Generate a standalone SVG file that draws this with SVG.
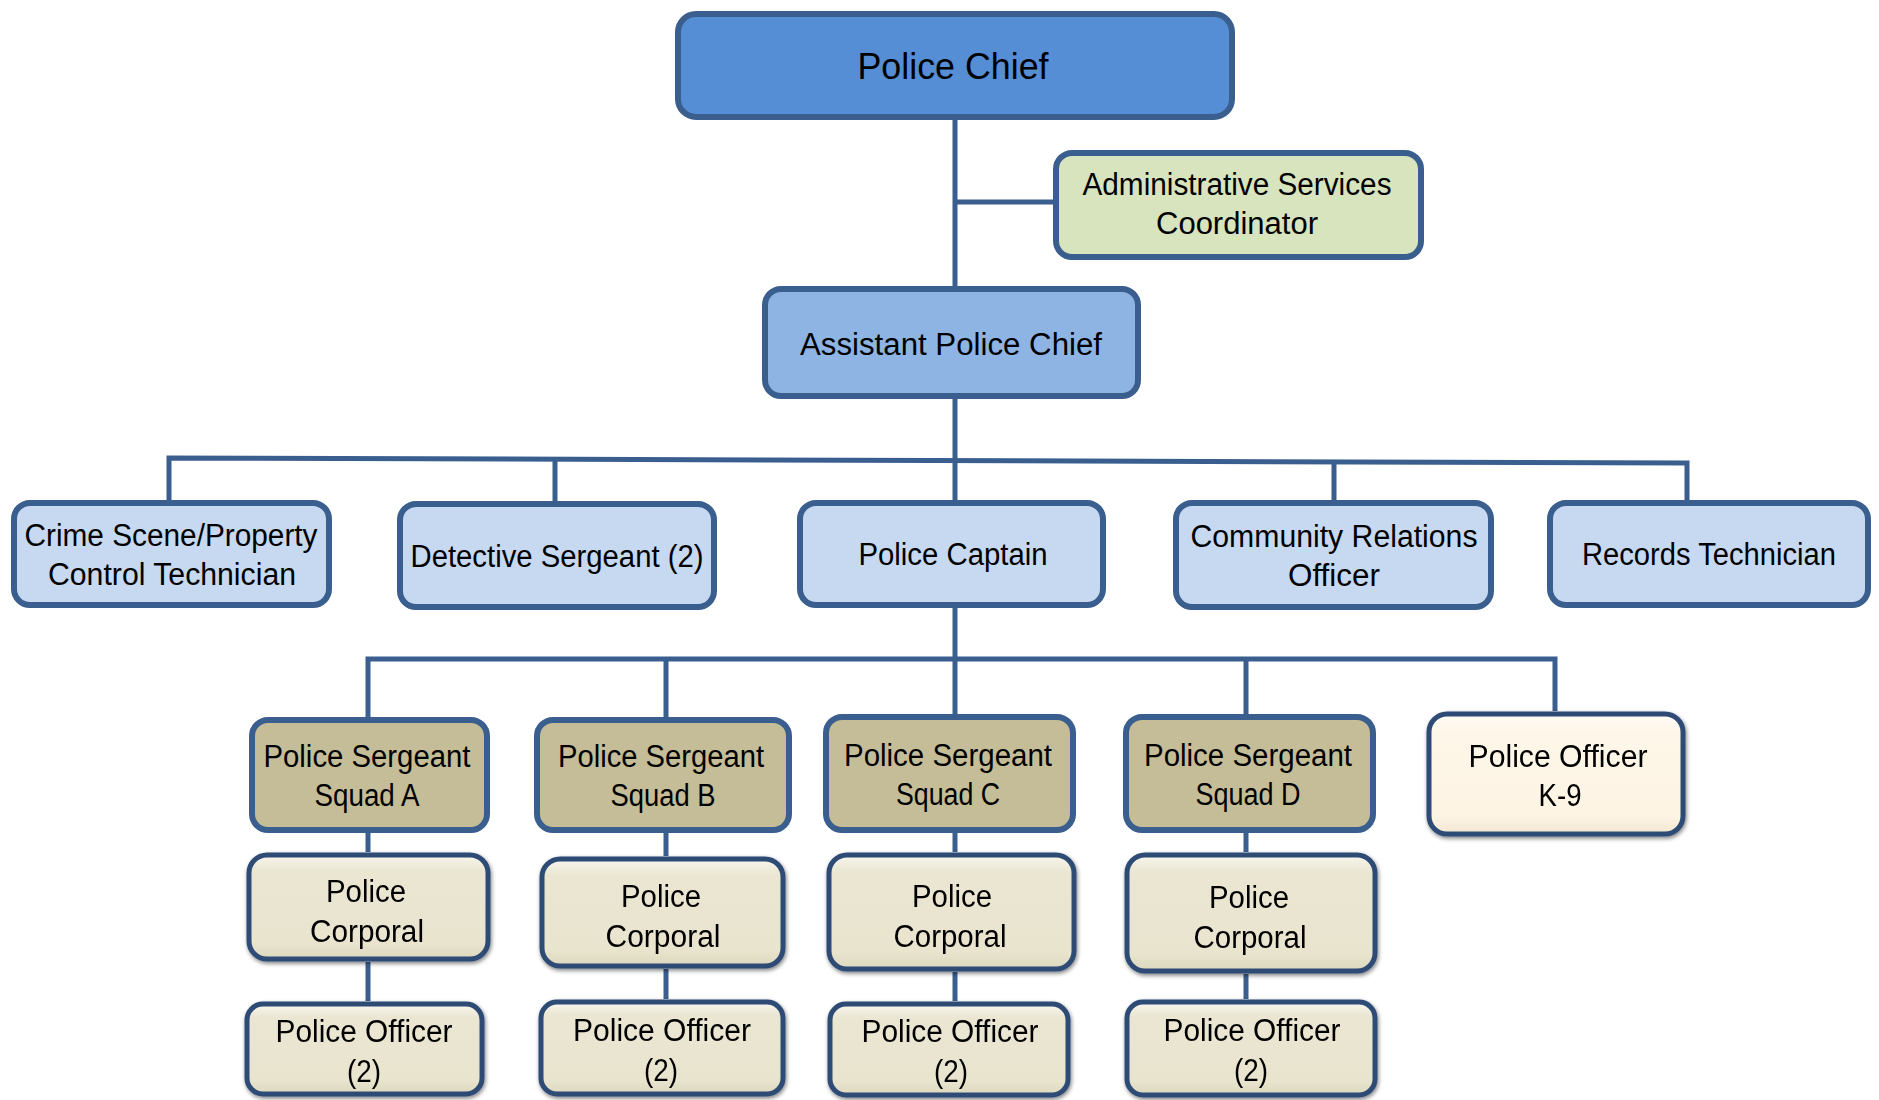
<svg xmlns="http://www.w3.org/2000/svg" width="1879" height="1100" viewBox="0 0 1879 1100">
<defs>
<style>
.box{stroke:#3A5F8F;stroke-width:6}
.bev{stroke:#2F4C74;stroke-width:5}
.ln{fill:none;stroke:#3A5F8F;stroke-width:5}
text{font-family:"Liberation Sans",Arial,sans-serif;fill:#000;text-anchor:middle}
.t{font-size:31px}
.big{font-size:37px}
</style>
<linearGradient id="cream" x1="0" y1="0" x2="0" y2="1">
<stop offset="0" stop-color="#F8F6EE"/>
<stop offset="0.15" stop-color="#EAE6D2"/>
<stop offset="0.85" stop-color="#E8E4CE"/>
<stop offset="1" stop-color="#DDD8BE"/>
</linearGradient>
<linearGradient id="k9" x1="0" y1="0" x2="0" y2="1">
<stop offset="0" stop-color="#FFFCF6"/>
<stop offset="0.15" stop-color="#FEF6E8"/>
<stop offset="0.85" stop-color="#FDF4E4"/>
<stop offset="1" stop-color="#F1E6D0"/>
</linearGradient>
<filter id="sh" x="-10%" y="-10%" width="120%" height="130%">
<feGaussianBlur in="SourceAlpha" stdDeviation="2"/>
<feOffset dx="1" dy="2" result="b"/>
<feComponentTransfer><feFuncA type="linear" slope="0.5"/></feComponentTransfer>
<feMerge><feMergeNode/><feMergeNode in="SourceGraphic"/></feMerge>
</filter>
</defs>
<rect width="1879" height="1100" fill="#fff"/>

<g id="connectors">
<path class="ln" d="M955 120 V286"/>
<path class="ln" d="M955 202 H1053"/>
<path class="ln" d="M955 399 V500"/>
<path class="ln" d="M169 500 V458 L1687 463 V500"/>
<path class="ln" d="M555 459 V501"/>
<path class="ln" d="M1334 462 V500"/>
<path class="ln" d="M955 608 V714"/>
<path class="ln" d="M368 717 V659 H1555 V711"/>
<path class="ln" d="M666 659 V717"/>
<path class="ln" d="M1246 659 V714"/>
<path class="ln" d="M368 833 V852"/>
<path class="ln" d="M666 833 V856"/>
<path class="ln" d="M955 833 V852"/>
<path class="ln" d="M1246 833 V852"/>
<path class="ln" d="M368 962 V1001"/>
<path class="ln" d="M666 969 V999"/>
<path class="ln" d="M955 972 V1001"/>
<path class="ln" d="M1246 974 V999"/>
</g>

<g id="police-chief">
<rect class="box" x="678" y="14" width="554" height="103" rx="18" fill="#558ED5"/>
<text class="big" x="953" y="79" textLength="191" lengthAdjust="spacingAndGlyphs">Police Chief</text>
</g>
<g id="admin-coordinator">
<rect class="box" x="1056" y="153" width="365" height="104" rx="16" fill="#D7E4BD"/>
<text class="t" x="1237" y="195" textLength="309" lengthAdjust="spacingAndGlyphs">Administrative Services</text>
<text class="t" x="1237" y="234" textLength="162" lengthAdjust="spacingAndGlyphs">Coordinator</text>
</g>
<g id="assistant-chief">
<rect class="box" x="765" y="289" width="373" height="107" rx="16" fill="#8EB4E3"/>
<text class="t" x="951" y="355" textLength="302" lengthAdjust="spacingAndGlyphs">Assistant Police Chief</text>
</g>

<g id="crime-scene">
<rect class="box" x="14" y="503" width="315" height="102" rx="16" fill="#C6D9F1"/>
<text class="t" x="171" y="546" textLength="293" lengthAdjust="spacingAndGlyphs">Crime Scene/Property</text>
<text class="t" x="172" y="585" textLength="248" lengthAdjust="spacingAndGlyphs">Control Technician</text>
</g>
<g id="detective-sergeant">
<rect class="box" x="400" y="504" width="314" height="103" rx="16" fill="#C6D9F1"/>
<text class="t" x="557" y="567" textLength="293" lengthAdjust="spacingAndGlyphs">Detective Sergeant (2)</text>
</g>
<g id="police-captain">
<rect class="box" x="800" y="503" width="303" height="102" rx="16" fill="#C6D9F1"/>
<text class="t" x="953" y="565" textLength="189" lengthAdjust="spacingAndGlyphs">Police Captain</text>
</g>
<g id="community-relations">
<rect class="box" x="1176" y="503" width="315" height="104" rx="16" fill="#C6D9F1"/>
<text class="t" x="1334" y="547" textLength="287" lengthAdjust="spacingAndGlyphs">Community Relations</text>
<text class="t" x="1334" y="586" textLength="92" lengthAdjust="spacingAndGlyphs">Officer</text>
</g>
<g id="records-technician">
<rect class="box" x="1550" y="503" width="318" height="102" rx="16" fill="#C6D9F1"/>
<text class="t" x="1709" y="565" textLength="254" lengthAdjust="spacingAndGlyphs">Records Technician</text>
</g>

<g id="sergeant-a">
<rect class="box" x="252" y="720" width="235" height="110" rx="16" fill="#C4BD97"/>
<text class="t" x="367" y="767" textLength="207" lengthAdjust="spacingAndGlyphs">Police Sergeant</text>
<text class="t" x="367" y="806" textLength="105" lengthAdjust="spacingAndGlyphs">Squad A</text>
</g>
<g id="sergeant-b">
<rect class="box" x="537" y="720" width="252" height="110" rx="16" fill="#C4BD97"/>
<text class="t" x="661" y="767" textLength="206" lengthAdjust="spacingAndGlyphs">Police Sergeant</text>
<text class="t" x="663" y="806" textLength="105" lengthAdjust="spacingAndGlyphs">Squad B</text>
</g>
<g id="sergeant-c">
<rect class="box" x="826" y="717" width="247" height="113" rx="16" fill="#C4BD97"/>
<text class="t" x="948" y="766" textLength="208" lengthAdjust="spacingAndGlyphs">Police Sergeant</text>
<text class="t" x="948" y="805" textLength="104" lengthAdjust="spacingAndGlyphs">Squad C</text>
</g>
<g id="sergeant-d">
<rect class="box" x="1126" y="717" width="247" height="113" rx="16" fill="#C4BD97"/>
<text class="t" x="1248" y="766" textLength="208" lengthAdjust="spacingAndGlyphs">Police Sergeant</text>
<text class="t" x="1248" y="805" textLength="105" lengthAdjust="spacingAndGlyphs">Squad D</text>
</g>
<g id="officer-k9" filter="url(#sh)">
<rect class="bev" x="1429" y="714" width="254" height="120" rx="18" fill="url(#k9)"/>
<text class="t" x="1558" y="767" textLength="179" lengthAdjust="spacingAndGlyphs">Police Officer</text>
<text class="t" x="1560" y="806" textLength="43" lengthAdjust="spacingAndGlyphs">K-9</text>
</g>

<g id="corporal-a" filter="url(#sh)">
<rect class="bev" x="249" y="855" width="239" height="104" rx="18" fill="url(#cream)"/>
<text class="t" x="366" y="902" textLength="80" lengthAdjust="spacingAndGlyphs">Police</text>
<text class="t" x="367" y="942" textLength="114" lengthAdjust="spacingAndGlyphs">Corporal</text>
</g>
<g id="corporal-b" filter="url(#sh)">
<rect class="bev" x="542" y="859" width="241" height="107" rx="18" fill="url(#cream)"/>
<text class="t" x="661" y="907" textLength="80" lengthAdjust="spacingAndGlyphs">Police</text>
<text class="t" x="663" y="947" textLength="115" lengthAdjust="spacingAndGlyphs">Corporal</text>
</g>
<g id="corporal-c" filter="url(#sh)">
<rect class="bev" x="829" y="855" width="245" height="114" rx="18" fill="url(#cream)"/>
<text class="t" x="952" y="907" textLength="80" lengthAdjust="spacingAndGlyphs">Police</text>
<text class="t" x="950" y="947" textLength="113" lengthAdjust="spacingAndGlyphs">Corporal</text>
</g>
<g id="corporal-d" filter="url(#sh)">
<rect class="bev" x="1127" y="855" width="248" height="116" rx="18" fill="url(#cream)"/>
<text class="t" x="1249" y="908" textLength="80" lengthAdjust="spacingAndGlyphs">Police</text>
<text class="t" x="1250" y="948" textLength="113" lengthAdjust="spacingAndGlyphs">Corporal</text>
</g>

<g id="officer-a" filter="url(#sh)">
<rect class="bev" x="247" y="1004" width="235" height="90" rx="16" fill="url(#cream)"/>
<text class="t" x="364" y="1042" textLength="177" lengthAdjust="spacingAndGlyphs">Police Officer</text>
<text class="t" x="364" y="1082" textLength="34" lengthAdjust="spacingAndGlyphs">(2)</text>
</g>
<g id="officer-b" filter="url(#sh)">
<rect class="bev" x="541" y="1002" width="242" height="92" rx="16" fill="url(#cream)"/>
<text class="t" x="662" y="1041" textLength="178" lengthAdjust="spacingAndGlyphs">Police Officer</text>
<text class="t" x="661" y="1081" textLength="34" lengthAdjust="spacingAndGlyphs">(2)</text>
</g>
<g id="officer-c" filter="url(#sh)">
<rect class="bev" x="830" y="1004" width="238" height="91" rx="16" fill="url(#cream)"/>
<text class="t" x="950" y="1042" textLength="177" lengthAdjust="spacingAndGlyphs">Police Officer</text>
<text class="t" x="951" y="1082" textLength="34" lengthAdjust="spacingAndGlyphs">(2)</text>
</g>
<g id="officer-d" filter="url(#sh)">
<rect class="bev" x="1127" y="1002" width="248" height="93" rx="16" fill="url(#cream)"/>
<text class="t" x="1252" y="1041" textLength="177" lengthAdjust="spacingAndGlyphs">Police Officer</text>
<text class="t" x="1251" y="1081" textLength="34" lengthAdjust="spacingAndGlyphs">(2)</text>
</g>
</svg>
